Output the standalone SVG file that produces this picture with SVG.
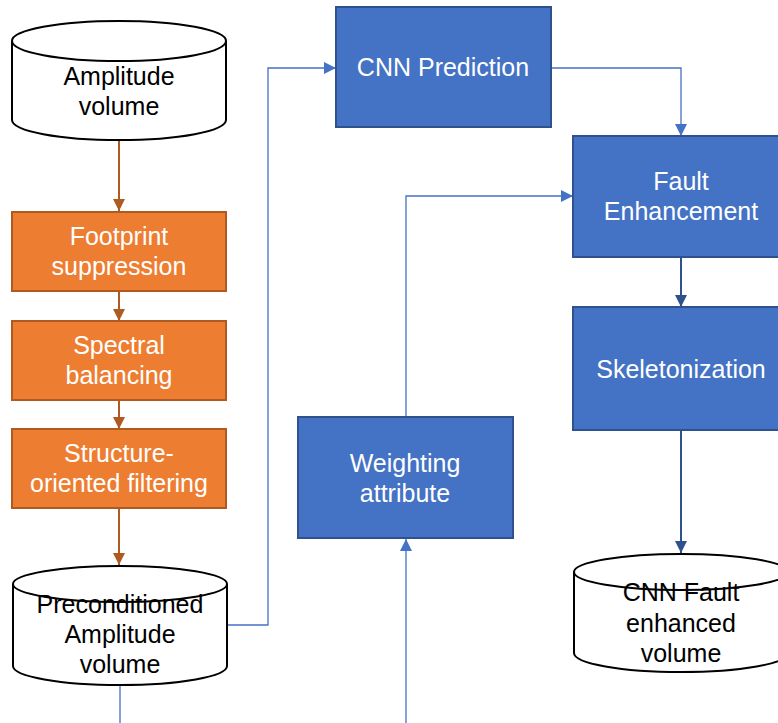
<svg xmlns="http://www.w3.org/2000/svg" width="778" height="723" viewBox="0 0 778 723">
<style>
text{font-family:"Liberation Sans",Arial,sans-serif;font-size:25px;text-anchor:middle}
.w{fill:#ffffff}
.k{fill:#000000}
.or{fill:#ED7D31;stroke:#AE5A21;stroke-width:2}
.bl{fill:#4472C4;stroke:#2F528F;stroke-width:2}
.cyl{fill:#ffffff;stroke:#000000;stroke-width:2}
.co{fill:none;stroke:#AE5A21;stroke-width:2}
.cb{fill:none;stroke:#4472C4;stroke-width:1.3}
.cd{fill:none;stroke:#2F528F;stroke-width:2}
</style>
<defs>
<marker id="ao" markerUnits="userSpaceOnUse" markerWidth="12" markerHeight="12" refX="12" refY="6" orient="auto"><path d="M0,0 L12,6 L0,12 Z" fill="#AE5A21"/></marker>
<marker id="ab" markerUnits="userSpaceOnUse" markerWidth="12" markerHeight="12" refX="12" refY="6" orient="auto"><path d="M0,0 L12,6 L0,12 Z" fill="#4472C4"/></marker>
<marker id="ad" markerUnits="userSpaceOnUse" markerWidth="12" markerHeight="12" refX="12" refY="6" orient="auto"><path d="M0,0 L12,6 L0,12 Z" fill="#2F528F"/></marker>
</defs>
<g id="connectors">
<path class="co" d="M119,140 V211" marker-end="url(#ao)"/>
<path class="co" d="M119,291 V321" marker-end="url(#ao)"/>
<path class="co" d="M119,400 V429" marker-end="url(#ao)"/>
<path class="co" d="M119,508 V565" marker-end="url(#ao)"/>
<path class="cb" d="M227,625 H268 V68 H336" marker-end="url(#ab)"/>
<path class="cb" d="M120,685 V723"/>
<path class="cb" d="M551,68 H681 V136" marker-end="url(#ab)"/>
<path class="cb" d="M406,417 V196 H573" marker-end="url(#ab)"/>
<path class="cb" d="M406,723 V539" marker-end="url(#ab)"/>
<path class="cd" d="M681,257 V307" marker-end="url(#ad)"/>
<path class="cd" d="M681,430 V553" marker-end="url(#ad)"/>
</g>
<g id="amplitude-volume">
<path class="cyl" d="M12,41 A107,20 0 0 1 226,41 V120 A107,20 0 0 1 12,120 Z"/>
<path class="cyl" fill="none" d="M12,41 A107,20 0 0 0 226,41"/>
<text class="k" x="119" y="85">Amplitude</text>
<text class="k" x="119" y="115">volume</text>
</g>
<g id="footprint">
<rect class="or" x="12" y="212" width="214" height="79"/>
<text class="w" x="119" y="245">Footprint</text>
<text class="w" x="119" y="275">suppression</text>
</g>
<g id="spectral">
<rect class="or" x="12" y="321" width="214" height="79"/>
<text class="w" x="119" y="354">Spectral</text>
<text class="w" x="119" y="384">balancing</text>
</g>
<g id="structure">
<rect class="or" x="12" y="429" width="214" height="79"/>
<text class="w" x="119" y="462">Structure-</text>
<text class="w" x="119" y="492">oriented filtering</text>
</g>
<g id="preconditioned">
<path class="cyl" d="M13,584 A107,18 0 0 1 227,584 V666 A107,19 0 0 1 13,666 Z"/>
<path class="cyl" fill="none" d="M13,584 A107,18 0 0 0 227,584"/>
<text class="k" x="120" y="613">Preconditioned</text>
<text class="k" x="120" y="643">Amplitude</text>
<text class="k" x="120" y="673">volume</text>
</g>
<g id="cnn-prediction">
<rect class="bl" x="336" y="7" width="215" height="120"/>
<text class="w" x="443" y="76">CNN Prediction</text>
</g>
<g id="fault-enhancement">
<rect class="bl" x="573" y="136" width="216" height="121"/>
<text class="w" x="681" y="190">Fault</text>
<text class="w" x="681" y="220">Enhancement</text>
</g>
<g id="skeletonization">
<rect class="bl" x="573" y="307" width="216" height="123"/>
<text class="w" x="681" y="378">Skeletonization</text>
</g>
<g id="weighting">
<rect class="bl" x="298" y="417" width="215" height="121"/>
<text class="w" x="405" y="472">Weighting</text>
<text class="w" x="405" y="502">attribute</text>
</g>
<g id="cnn-fault-volume">
<path class="cyl" d="M574,572 A107,18 0 0 1 788,572 V653 A107,19 0 0 1 574,653 Z"/>
<path class="cyl" fill="none" d="M574,572 A107,18 0 0 0 788,572"/>
<text class="k" x="681" y="601">CNN Fault</text>
<text class="k" x="681" y="632">enhanced</text>
<text class="k" x="681" y="662">volume</text>
</g>
</svg>
